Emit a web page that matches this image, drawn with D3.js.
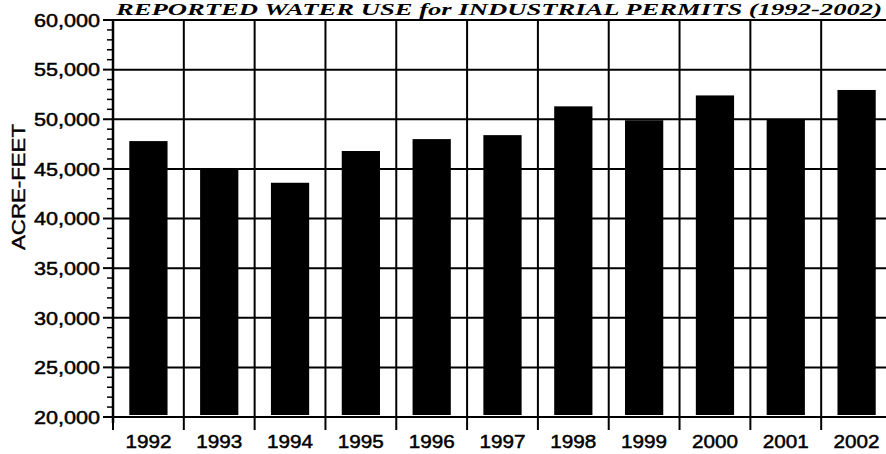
<!DOCTYPE html>
<html>
<head>
<meta charset="utf-8">
<script src="https://cdn.jsdelivr.net/npm/d3@7"></script>
<style>
body { margin: 0; background: #fff; }
text { font-family: "Liberation Sans", Arial, sans-serif; }
</style>
</head>
<body>
<div id="chart"></div>
<script>
const years = ["1992","1993","1994","1995","1996","1997","1998","1999","2000","2001","2002"];
const acre_feet = [47800, 45050, 43600, 46800, 48000, 48400, 51300, 49900, 52400, 50000, 52950];
const y_ticks = [20000, 25000, 30000, 35000, 40000, 45000, 50000, 55000, 60000];
const title_text = "REPORTED WATER USE for INDUSTRIAL PERMITS (1992-2002)";
const y_label = "ACRE-FEET";

const W = 886, H = 454;
const plot_left = 113, plot_right = 892, plot_top = 20, plot_bottom = 417;

var svg = d3.select("#chart").append("svg")
    .attr("width", W)
    .attr("height", H);

var x = d3.scaleBand()
    .domain(years)
    .range([plot_left, plot_right])
    .paddingInner(0.46)
    .paddingOuter(0.23);

var y = d3.scaleLinear()
    .domain([20000, 60000])
    .range([plot_bottom, plot_top]);

//band edges for vertical grid lines + x ticks
var half_gap = (x.step() - x.bandwidth()) / 2;
var edges = years.map(d => x(d) - half_gap);
edges.push(x(years[years.length-1]) + x.bandwidth() + half_gap);

//horizontal grid
svg.append("g").selectAll("line")
    .data(y_ticks)
    .enter()
    .append("line")
    .attr("x1", plot_left)
    .attr("x2", plot_right)
    .attr("y1", d => y(d))
    .attr("y2", d => y(d))
    .attr("stroke", "#000")
    .attr("stroke-width", 2);

//vertical grid
svg.append("g").selectAll("line")
    .data(edges)
    .enter()
    .append("line")
    .attr("x1", d => d)
    .attr("x2", d => d)
    .attr("y1", plot_top)
    .attr("y2", plot_bottom + 13)
    .attr("stroke", "#000")
    .attr("stroke-width", 2);

//bars
svg.append("g").selectAll("rect")
    .data(acre_feet)
    .enter()
    .append("rect")
    .attr("x", (d,i) => x(years[i]))
    .attr("width", x.bandwidth())
    .attr("y", d => y(d))
    .attr("height", d => y(20000) - y(d) - 2)
    .attr("fill", "#000");

//y axis with minor ticks
var minor = d3.range(20000, 60001, 1000);
svg.append("g").selectAll("line")
    .data(minor)
    .enter()
    .append("line")
    .attr("x1", d => d % 5000 == 0 ? plot_left - 10 : plot_left - 6)
    .attr("x2", plot_left)
    .attr("y1", d => y(d))
    .attr("y2", d => y(d))
    .attr("stroke", "#000")
    .attr("stroke-width", d => d % 5000 == 0 ? 2 : 1.5);

svg.append("line")
    .attr("x1", plot_left).attr("x2", plot_left)
    .attr("y1", plot_top - 1).attr("y2", plot_bottom + 6)
    .attr("stroke", "#000")
    .attr("stroke-width", 2.5);

svg.append("line")
    .attr("x1", plot_left).attr("x2", plot_right)
    .attr("y1", plot_bottom).attr("y2", plot_bottom)
    .attr("stroke", "#000")
    .attr("stroke-width", 2);

//labels are stretched a bit wider than the font, like the scan
var fmt = d3.format(",");
svg.append("g").selectAll("text")
    .data(y_ticks)
    .enter()
    .append("text")
    .attr("x", plot_left - 13)
    .attr("y", d => y(d))
    .attr("dy", "0.36em")
    .attr("text-anchor", "end")
    .attr("textLength", 66)
    .attr("lengthAdjust", "spacingAndGlyphs")
    .attr("stroke", "#000")
    .attr("stroke-width", 0.5)
    .style("font-size", "19px")
    .text(d => fmt(d));

//x labels
svg.append("g").selectAll("text")
    .data(years)
    .enter()
    .append("text")
    .attr("x", d => x(d) + x.bandwidth()/2)
    .attr("y", 448)
    .attr("text-anchor", "middle")
    .attr("textLength", 46)
    .attr("lengthAdjust", "spacingAndGlyphs")
    .attr("stroke", "#000")
    .attr("stroke-width", 0.5)
    .style("font-size", "19px")
    .text(d => d);

svg.append("text")
    .attr("transform", "translate(18,187) rotate(-90)")
    .attr("text-anchor", "middle")
    .attr("dy", "0.36em")
    .attr("textLength", 126)
    .attr("lengthAdjust", "spacingAndGlyphs")
    .attr("stroke", "#000")
    .attr("stroke-width", 0.4)
    .style("font-size", "19px")
    .text(y_label);

//title, stretched to the width it takes in the picture
svg.append("text")
    .attr("x", 499)
    .attr("y", 15)
    .attr("text-anchor", "middle")
    .attr("textLength", 766)
    .attr("lengthAdjust", "spacingAndGlyphs")
    .style("font-family", "'Liberation Serif', 'Times New Roman', serif")
    .style("font-weight", "bold")
    .style("font-style", "italic")
    .style("font-size", "16px")
    .text(title_text);
</script>
</body>
</html>
